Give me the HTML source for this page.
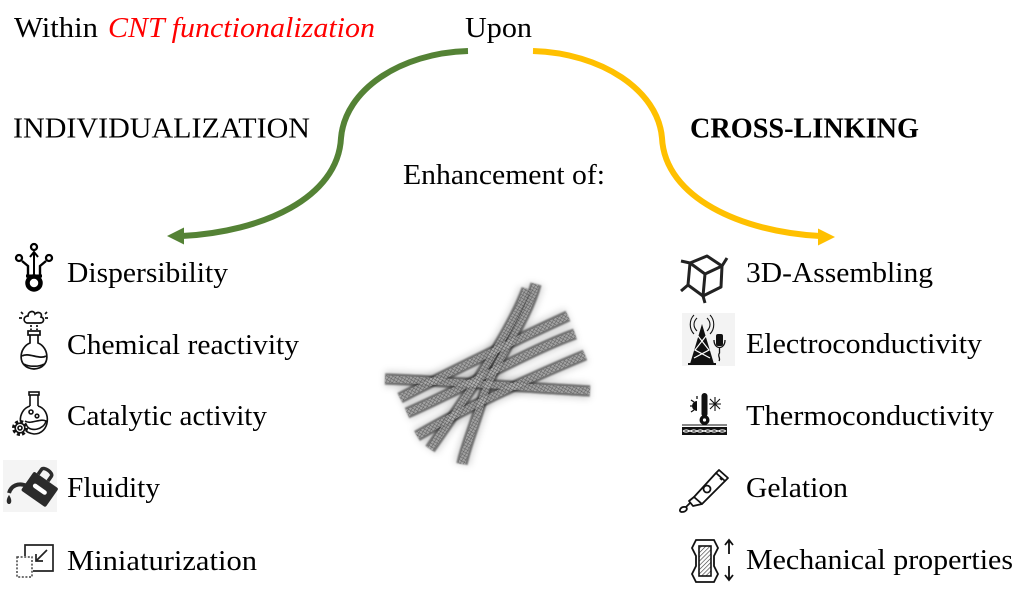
<!DOCTYPE html>
<html>
<head>
<meta charset="utf-8">
<style>
html,body{margin:0;padding:0;background:#fff;}
svg{display:block;}
text{font-family:"Liberation Serif","DejaVu Serif",serif;fill:#000;}
</style>
</head>
<body>
<svg width="1023" height="590" viewBox="0 0 1023 590" xmlns="http://www.w3.org/2000/svg">
<defs>
  <pattern id="mesh" width="3" height="3" patternUnits="userSpaceOnUse" patternTransform="rotate(30)">
    <rect width="3" height="3" fill="#b4b4b4"/>
    <path d="M0 0L3 0M0 0L0 3" stroke="#555" stroke-width="0.9"/>
  </pattern>
  <pattern id="hatch" width="3" height="3" patternUnits="userSpaceOnUse" patternTransform="rotate(45)">
    <rect width="3" height="3" fill="#fff"/>
    <path d="M0 0L0 3" stroke="#333" stroke-width="1.2"/>
  </pattern>
  <filter id="blur" x="-20%" y="-20%" width="140%" height="140%"><feGaussianBlur stdDeviation="3.5"/></filter>
  <filter id="soft" x="-10%" y="-10%" width="120%" height="120%"><feGaussianBlur stdDeviation="0.8"/></filter>
  <g id="tp" fill="none">
    <path d="M385,379 C450,381 530,388 590,391"/>
    <path d="M536,284 C526,322 494,362 482,400 C473,430 465,448 462,464"/>
    <path d="M527,289 C512,330 470,392 430,449"/>
    <path d="M400,398 C450,372 520,338 568,316"/>
    <path d="M407,413 C460,390 530,350 575,334"/>
    <path d="M417,436 C470,405 530,378 585,355"/>
  </g>
</defs>

<!-- Titles -->
<text x="14" y="37" font-size="28" textLength="84" lengthAdjust="spacingAndGlyphs">Within</text>
<text x="108" y="37" font-size="28" font-style="italic" style="fill:#ff0000" textLength="267" lengthAdjust="spacingAndGlyphs">CNT functionalization</text>
<text x="465" y="37" font-size="28" textLength="67" lengthAdjust="spacingAndGlyphs">Upon</text>
<text x="13" y="137.5" font-size="28" textLength="297" lengthAdjust="spacingAndGlyphs">INDIVIDUALIZATION</text>
<text x="690" y="137.5" font-size="28" font-weight="bold" textLength="229" lengthAdjust="spacingAndGlyphs">CROSS-LINKING</text>
<text x="403" y="184" font-size="28" textLength="202" lengthAdjust="spacingAndGlyphs">Enhancement of:</text>

<!-- Arrows -->
<path d="M468,51 C400,53 345,90 341,138 C338,198 262,232 182,236" fill="none" stroke="#548235" stroke-width="6"/>
<polygon points="167,236 184,227.5 184,244.5" fill="#548235"/>
<path d="M533,51 C601,53 658,90 662,138 C665,198 742,232 820,236" fill="none" stroke="#ffc000" stroke-width="6"/>
<polygon points="835,237 818,228.5 818,245.5" fill="#ffc000"/>

<!-- Left labels -->
<text x="67" y="282" font-size="29" textLength="161" lengthAdjust="spacingAndGlyphs">Dispersibility</text>
<text x="67" y="354" font-size="29" textLength="232" lengthAdjust="spacingAndGlyphs">Chemical reactivity</text>
<text x="67" y="425" font-size="29" textLength="200" lengthAdjust="spacingAndGlyphs">Catalytic activity</text>
<text x="67" y="497" font-size="29" textLength="93" lengthAdjust="spacingAndGlyphs">Fluidity</text>
<text x="67" y="570" font-size="29" textLength="190" lengthAdjust="spacingAndGlyphs">Miniaturization</text>

<!-- Right labels -->
<text x="746" y="282" font-size="29" textLength="187" lengthAdjust="spacingAndGlyphs">3D-Assembling</text>
<text x="746" y="353" font-size="29" textLength="236" lengthAdjust="spacingAndGlyphs">Electroconductivity</text>
<text x="746" y="425" font-size="29" textLength="248" lengthAdjust="spacingAndGlyphs">Thermoconductivity</text>
<text x="746" y="497" font-size="29" textLength="102" lengthAdjust="spacingAndGlyphs">Gelation</text>
<text x="746" y="569" font-size="29" textLength="267" lengthAdjust="spacingAndGlyphs">Mechanical properties</text>

<!-- CNT bundle -->
<use href="#tp" stroke="#000" stroke-width="16" stroke-opacity="0.16" filter="url(#blur)"/>
<g filter="url(#soft)">
<use href="#tp" stroke="#2e2e2e" stroke-width="11.5" stroke-opacity="0.6"/>
</g>
<use href="#tp" stroke="url(#mesh)" stroke-width="7" stroke-opacity="0.7"/>

<!-- Icon: Dispersibility -->
<g fill="none" stroke="#000">
  <circle cx="19" cy="258" r="3" stroke-width="2.3"/>
  <circle cx="34" cy="247" r="3" stroke-width="2.3"/>
  <circle cx="49" cy="258" r="3" stroke-width="2.3"/>
  <circle cx="34" cy="283" r="6.5" stroke-width="4.5"/>
  <path d="M34 252V276M30 257L34 252L38 257" stroke-width="2"/>
  <path d="M28 277V266L22 261M40 277V266L46 261" stroke-width="2.4"/>
  <path d="M26 276H42" stroke-width="3"/>
</g>

<!-- Icon: Chemical reactivity -->
<g fill="none" stroke="#111" stroke-width="1.7">
  <path d="M27 323 C23 322 23 316 28 316 C28 311 34 310 35 314 C38 311 43 313 41 317 C45 318 44 323 40 323 Z"/>
  <path d="M19 318h3M45 318h3M21 312l2 2M47 312l-2 2"/>
  <path d="M31 325v5M37 325v5" stroke-dasharray="2 1.5"/>
  <rect x="28" y="331" width="12" height="4"/>
  <path d="M30 335 V343 C19 347 16 368 34 369 C52 368 49 347 38 343 V335"/>
  <path d="M22 356 C28 352 40 360 46 356"/>
  <path d="M24 364 C28 367 40 367 44 364"/>
</g>

<!-- Icon: Catalytic activity -->
<g fill="none" stroke="#111" stroke-width="1.6">
  <rect x="29" y="392" width="10" height="3"/>
  <path d="M30 395 V406 M38 395 V406"/>
  <path d="M30 406 C17 410 16 432 34 434 C50 434 52 410 38 406"/>
  <path d="M25 421 C31 425 39 418 46 421 C44 430 30 432 27 426"/>
  <circle cx="31" cy="412" r="2"/>
  <circle cx="37" cy="416" r="1.8"/>
  <circle cx="20" cy="428" r="6.5" stroke-width="3" stroke-dasharray="3 2.1" fill="#fff"/>
  <circle cx="20" cy="428" r="4.8" fill="#fff"/>
  <circle cx="20" cy="428" r="2"/>
</g>

<!-- Icon: Fluidity -->
<rect x="3" y="460" width="54" height="52" fill="#f4f4f4"/>
<g transform="rotate(35 40 489)">
  <rect x="25" y="478" width="30" height="23" rx="2" fill="#2b2b2b"/>
  <path d="M30 478 V472 C30 468 42 468 42 472 V478" fill="none" stroke="#2b2b2b" stroke-width="3.5"/>
  <rect x="32" y="487" width="16" height="4.5" rx="2.2" fill="#fff"/>
</g>
<path d="M27 486 C18 482 11 486 9 493" fill="none" stroke="#2b2b2b" stroke-width="4"/>
<path d="M9 495 C5.5 500 6.5 504 9 504 C11.5 504 12.5 500 9 495Z" fill="#2b2b2b"/>

<!-- Icon: Miniaturization -->
<rect x="17" y="557" width="15" height="20" fill="none" stroke="#444" stroke-width="1.5" stroke-dasharray="2 1.6"/>
<path d="M25 556 V545 H53 V571 H33" fill="none" stroke="#222" stroke-width="1.7"/>
<path d="M47 550 L36 561 M36 554 V561 H43" fill="none" stroke="#222" stroke-width="1.7"/>

<!-- Icon: 3D cube -->
<g fill="none" stroke="#222" stroke-width="3" stroke-linejoin="round">
  <polygon points="690,263 707,256 722,266 721,287 703,296 688,285"/>
  <path d="M690,263 L705,274 L722,266 M705,274 L703,296"/>
  <path d="M722,266 L727,258 M688,285 L681,291 M690,263 L681,261 M703,296 L705,303"/>
</g>

<!-- Icon: tower -->
<rect x="682" y="313" width="53" height="53" fill="#f3f3f3"/>
<g>
  <polygon points="702,324 690,364 714,364" fill="#111"/>
  <path d="M698,336 L709,350 L694,358 M706,336 L695,350 L710,358" stroke="#fff" stroke-width="1.2" fill="none"/>
  <path d="M688,364 H716" stroke="#111" stroke-width="2"/>
  <path d="M697,318 C693,322 693,327 697,331 M707,318 C711,322 711,327 707,331 M694,315 C689,320 689,329 694,334 M710,315 C715,320 715,329 710,334" fill="none" stroke="#111" stroke-width="1.1"/>
  <rect x="716" y="334" width="7" height="12" rx="2" fill="#111"/>
  <path d="M714,340 C714,350 725,350 725,340 M719.5,347 V353 C717,356 721,358 719,361" fill="none" stroke="#111" stroke-width="1.3"/>
</g>

<!-- Icon: thermometer -->
<g>
  <rect x="701.5" y="393" width="6" height="24" rx="3" fill="#111"/>
  <circle cx="704.5" cy="420" r="5" fill="#111"/>
  <circle cx="704.5" cy="420" r="1.6" fill="#fff"/>
  <path d="M697,401 A5,5 0 0 0 697,411 Z" fill="#111"/>
  <path d="M690,406h4M691,400l3,2M691,412l3,-2M697,396v3" stroke="#111" stroke-width="1.3"/>
  <path d="M715,397v14M709,404h12M710,399l10,10M720,399l-10,10" stroke="#111" stroke-width="1.1"/>
  <rect x="682" y="427" width="45" height="8" fill="#111"/>
  <path d="M683,431 C688,427 692,435 697,431 C702,427 706,435 711,431 C716,427 720,435 726,431" fill="none" stroke="#fff" stroke-width="1"/>
  <path d="M683,431 C688,435 692,427 697,431 C702,435 706,427 711,431 C716,435 720,427 726,431" fill="none" stroke="#fff" stroke-width="1"/>
  <path d="M682,425H727" stroke="#111" stroke-width="1"/>
</g>

<!-- Icon: gel tube -->
<g fill="none" stroke="#111" stroke-width="1.8" stroke-linejoin="round">
  <path d="M694,497 L716,473 L725,481 L702,504 Z"/>
  <path d="M716,473 L719,470 L728,478 L725,481"/>
  <circle cx="707" cy="489" r="3.5"/>
  <path d="M720,478 l2,2"/>
  <path d="M694,497 L689,501 L693,506 L702,504"/>
  <path d="M690,503 L686,507"/>
  <path d="M686,507 C680,506 678,512 682,512 C686,512 688,509 686,507Z"/>
</g>

<!-- Icon: mechanical -->
<g fill="none" stroke="#111" stroke-width="1.8">
  <path d="M696,540 H714 L718,548 L714,556 V566 L718,574 L714,582 H696 L692,574 L696,566 V556 L692,548 Z"/>
  <rect x="699" y="546" width="12" height="30" fill="url(#hatch)" stroke-width="1.6"/>
  <path d="M729,554 V540 M725,545 L729,540 L733,545"/>
  <path d="M729,566 V580 M725,575 L729,580 L733,575"/>
</g>
</svg>
</body>
</html>
